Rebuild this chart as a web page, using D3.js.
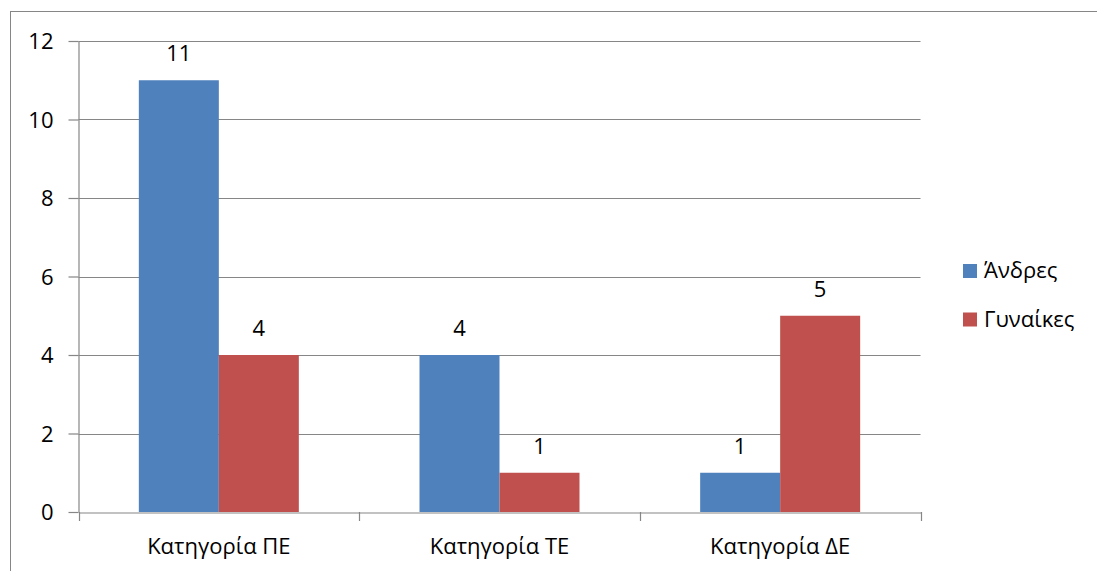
<!DOCTYPE html>
<html><head><meta charset="utf-8">
<script src="https://cdn.jsdelivr.net/npm/d3@7"></script>
<style>body{margin:0;background:#fff;}svg{display:block;font-family:"Open Sans",sans-serif;}</style>
</head><body>
<svg id="c" width="1097" height="571"></svg>
<script>
const categories = ["Κατηγορία ΠΕ", "Κατηγορία ΤΕ", "Κατηγορία ΔΕ"];
const seriesNames = ["Άνδρες", "Γυναίκες"];
const andres = [11, 4, 1];
const gynaikes = [4, 1, 5];
const yTicks = [0, 2, 4, 6, 8, 10, 12];
const colors = ["#4F81BD", "#C0504D"];

const svg = d3.select("#c");
const W = 1097, H = 571;
const m = {l: 78.5, r: 920.5, t: 41, b: 512};
const fs = 22;

svg.append("rect").attr("x", 10.5).attr("y", 11.5).attr("width", W).attr("height", H)
  .attr("fill", "none").attr("stroke", "#868686").attr("stroke-width", 1);

const x0 = d3.scaleBand().domain(categories).range([m.l, m.r]).paddingInner(0).paddingOuter(0);
const x1 = d3.scaleBand().domain(seriesNames).range([0, 160]);
const y = d3.scaleLinear().domain([0, 12]).range([m.b, m.t]);

// gridlines
svg.append("g").selectAll("line").data(yTicks.filter(d => d > 0)).join("line")
  .attr("x1", m.l).attr("x2", m.r)
  .attr("y1", d => Math.round(y(d)) + 0.5).attr("y2", d => Math.round(y(d)) + 0.5)
  .attr("stroke", "#868686").attr("stroke-width", 1.2);

// y axis
const ya = d3.axisLeft(y).tickValues(yTicks).tickSize(10).tickSizeOuter(0).tickFormat(d3.format("d"));
const gy = svg.append("g").attr("transform", `translate(${m.l},0)`).call(ya);
gy.select(".domain").attr("stroke", "#868686").attr("stroke-width", 1.2);
gy.selectAll(".tick line").attr("stroke", "#868686").attr("stroke-width", 1.2);
gy.selectAll(".tick text").attr("font-size", fs).attr("fill", "#000").attr("font-family", "Open Sans")
  .attr("x", -25).attr("dy", "0.36em");

// bars
const data = categories.map((c, i) => ({c, vals: [andres[i], gynaikes[i]]}));
const groups = svg.append("g").selectAll("g").data(data).join("g")
  .attr("transform", d => `translate(${x0(d.c) + (x0.bandwidth() - 160) / 2},0)`);
groups.selectAll("rect").data(d => d.vals.map((v, j) => ({v, s: seriesNames[j], j}))).join("rect")
  .attr("x", d => x1(d.s)).attr("width", x1.bandwidth())
  .attr("y", d => y(d.v)).attr("height", d => y(0) - y(d.v))
  .attr("fill", d => colors[d.j]);
groups.selectAll("text").data(d => d.vals.map((v, j) => ({v, s: seriesNames[j], j}))).join("text")
  .attr("x", d => x1(d.s) + x1.bandwidth() / 2).attr("y", d => y(d.v) - 19)
  .attr("text-anchor", "middle").attr("font-size", fs).attr("fill", "#000").text(d => d.v);

// x axis
const xa = d3.axisBottom(x0).tickSize(0).tickSizeOuter(0);
const gx = svg.append("g").attr("transform", `translate(0,${m.b + 0.5})`).call(xa);
gx.select(".domain").attr("stroke", "#868686").attr("stroke-width", 1.2);
gx.selectAll(".tick text").attr("font-size", fs).attr("fill", "#000").attr("font-family", "Open Sans")
  .attr("y", 41).attr("dy", 0);
const bounds = [m.l, ...categories.map(c => x0(c) + x0.bandwidth())];
svg.append("g").selectAll("line").data(bounds).join("line")
  .attr("x1", d => Math.round(d) + 0.5).attr("x2", d => Math.round(d) + 0.5)
  .attr("y1", m.b).attr("y2", m.b + 9).attr("stroke", "#868686").attr("stroke-width", 1.2);

// legend
const lg = svg.append("g").selectAll("g").data(seriesNames).join("g")
  .attr("transform", (d, i) => `translate(963,${278 + i * 48.5})`);
lg.append("rect").attr("x", 0).attr("y", -14).attr("width", 14).attr("height", 14).attr("fill", (d, i) => colors[i]);
lg.append("text").attr("x", 21).attr("y", 0).attr("font-size", fs).attr("fill", "#000").text(d => d);
</script>
</body></html>
